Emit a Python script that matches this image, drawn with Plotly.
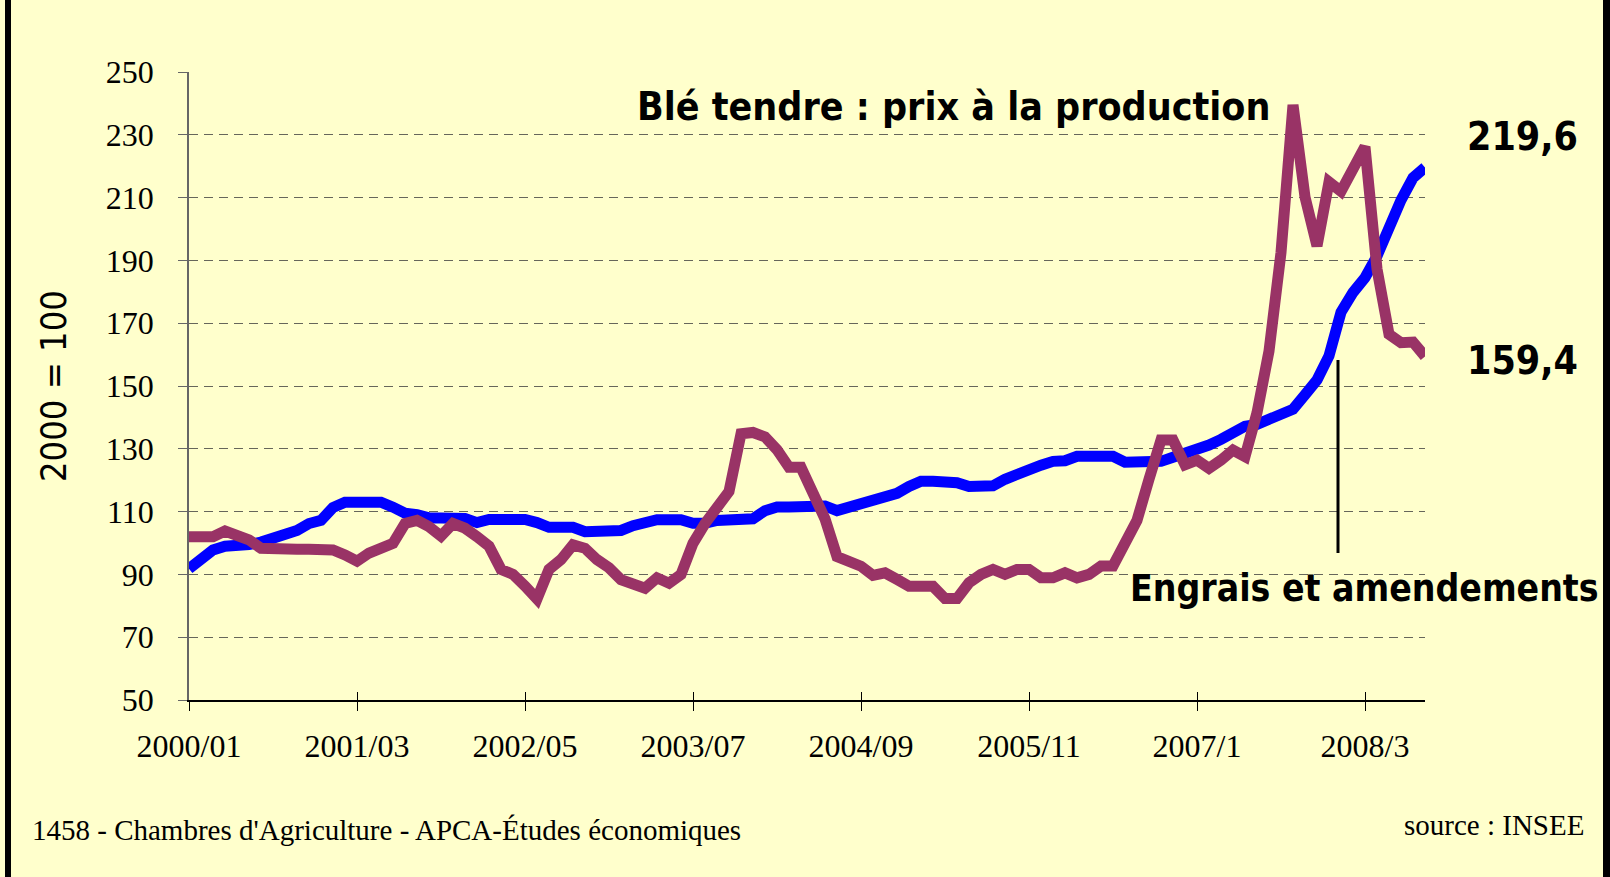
import plotly.graph_objects as go

# Monthly categories 2000/01 .. 2008/08
months = [f"{2000 + i // 12}-{i % 12 + 1:02d}" for i in range(104)]

tick_labels = ["2000/01", "2001/03", "2002/05", "2003/07", "2004/09", "2005/11", "2007/1", "2008/3"]
tick_months = ["2000-01", "2001-03", "2002-05", "2003-07", "2004-09", "2005-11", "2007-01", "2008-03"]

engrais = [
    91.8, 95.2, 97.8, 99, 99, 99.5, 100.3, 101.5, 102.8, 104,
    106.2, 107.2, 111.3, 113, 113, 113, 113, 111.4, 109.5, 109,
    108, 108, 108, 107.8, 106.5, 107.5, 107.5, 107.5, 107.5, 106.5,
    105, 105, 105, 103.6, 103.6, 103.6, 104, 105.5, 106.5, 107.4,
    107.4, 107.4, 106.3, 106.3, 107.2, 107.2, 107.2, 107.7, 110.3, 111.5,
    111.5, 111.5, 111.5, 111.8, 110.3, 111.5, 112.5, 113.8, 115.2, 115.8,
    118, 119.7, 119.7, 119.7, 119.2, 118, 118, 118.2, 120.3, 122,
    123.5, 124.8, 126, 126.2, 127.6, 127.6, 127.6, 127.6, 125.7, 125.7,
    125.7, 126, 127.3, 128.5, 129.6, 131.2, 133, 135.6, 137.2, 137.8,
    139.4, 140.5, 142.6, 147.2, 151.9, 159.6, 173.5, 179.8, 184.5, 191.4,
    200.8, 209.2, 216.3, 219.6,
]

ble = [
    102, 102, 102, 103.8, 102.5, 101, 98.3, 98, 98, 98,
    98, 98, 97.8, 96.2, 94.2, 96.8, 98.3, 99.9, 106.2, 107.2,
    105.2, 102.2, 106.2, 104.7, 102, 99, 91.6, 90, 86.3, 82.2,
    91.6, 94.7, 99.4, 98.3, 94.7, 92.1, 88.3, 87, 85.6, 88.9,
    87.2, 90, 99.9, 106.2, 110.9, 116.4, 134.8, 135.2, 133.8, 129.7,
    124.1, 124.1, 115.9, 107.7, 95.7, 94.2, 92.6, 89.7, 90.5, 88.4,
    86.2, 86.2, 86.2, 82.3, 82.3, 87.3, 90, 91.6, 90, 91.6,
    91.6, 88.9, 88.9, 90.5, 88.9, 90, 92.7, 92.7, 100.9, 107.2,
    120.3, 132.8, 132.8, 124.9, 126.4, 123.8, 126.4, 129.6, 127.5, 141.5,
    161.1, 192.5, 239.5, 210.2, 194.6, 215, 212, 220, 226.2, 187.3,
    166.5, 163.8, 164, 159.4,
]

y_ticks = [50, 70, 90, 110, 130, 150, 170, 190, 210, 230, 250]

BG = "#FFFFCC"
BLUE = "#0000FF"
PLUM = "#993366"
SANS = "Liberation Sans Narrow, DejaVu Sans Condensed, Roboto, sans-serif"
SERIF = "Liberation Serif, DejaVu Serif, serif"

fig = go.Figure()
fig.add_trace(go.Scatter(x=months, y=engrais, mode="lines", name="Engrais et amendements",
                         line=dict(color=BLUE, width=11), xaxis="x", yaxis="y"))
fig.add_trace(go.Scatter(x=months, y=ble, mode="lines", name="Blé tendre",
                         line=dict(color=PLUM, width=11), xaxis="x2", yaxis="y"))

W, H = 1610, 877
L, R, T, B = 189, 1425, 72, 700
pw, ph = R - L, B - T


def px(x):
    return (x - L) / pw


def py(y):
    return (B - y) / ph


fig.update_layout(
    width=W, height=H,
    margin=dict(l=L, r=W - R, t=T, b=H - B, pad=0),
    paper_bgcolor=BG, plot_bgcolor=BG,
    showlegend=False,
    xaxis=dict(type="category", categoryorder="array", categoryarray=months,
               range=[0, len(months) - 1],
               tickmode="array", tickvals=tick_months, ticktext=tick_labels,
               ticks="outside", ticklen=9, tickcolor="#000000", tickwidth=1,
               showline=True, linecolor="#000000", linewidth=1.5,
               showgrid=False, zeroline=False,
               tickfont=dict(family=SERIF, size=32, color="#000000"),
               ticklabelstandoff=8),
    xaxis2=dict(type="category", categoryorder="array", categoryarray=months,
                range=[0, len(months) - 1], overlaying="x", matches="x",
                tickmode="array", tickvals=tick_months,
                ticks="inside", ticklen=8, tickcolor="#000000", tickwidth=1,
                showticklabels=False, showline=False, showgrid=False, zeroline=False),
    yaxis=dict(range=[50, 250], tickmode="array", tickvals=y_ticks,
               ticks="outside", ticklen=9, tickcolor="#666666",
               showline=True, linecolor="#666666", linewidth=1.5,
               showgrid=True, gridcolor="#66665a", gridwidth=1, griddash="9px,6px",
               zeroline=False,
               tickfont=dict(family=SERIF, size=32, color="#000000"),
               ticklabelstandoff=18),
)

bold_font = dict(family=SANS, size=39, color="#000000", weight="bold")
fig.add_annotation(text="Blé tendre : prix à la production", xref="paper", yref="paper",
                   x=px(953), y=py(106), showarrow=False, xanchor="center", yanchor="middle",
                   font=bold_font)
fig.add_annotation(text="219,6", xref="paper", yref="paper",
                   x=px(1522), y=py(136), showarrow=False, xanchor="center", yanchor="middle",
                   font=bold_font)
fig.add_annotation(text="159,4", xref="paper", yref="paper",
                   x=px(1522), y=py(360), showarrow=False, xanchor="center", yanchor="middle",
                   font=bold_font)
fig.add_annotation(text="Engrais et amendements", xref="paper", yref="paper",
                   x=px(1128), y=py(588), showarrow=False, xanchor="left", yanchor="middle",
                   font=dict(family=SANS, size=37, color="#000000", weight="bold"))
fig.add_annotation(text="2000 = 100", xref="paper", yref="paper", textangle=-90,
                   x=px(53), y=py(386), showarrow=False, xanchor="center", yanchor="middle",
                   font=dict(family=SANS, size=36, color="#000000"))
fig.add_annotation(text="1458 - Chambres d'Agriculture - APCA-Études économiques",
                   xref="paper", yref="paper", x=px(30), y=py(830), showarrow=False,
                   xanchor="left", yanchor="middle",
                   font=dict(family=SERIF, size=29, color="#000000"))
fig.add_annotation(text="source : INSEE", xref="paper", yref="paper",
                   x=px(1586), y=py(825), showarrow=False,
                   xanchor="right", yanchor="middle",
                   font=dict(family=SERIF, size=29, color="#000000"))

# pointer line for "Engrais et amendements"
fig.add_shape(type="line", xref="paper", yref="paper",
              x0=px(1338), x1=px(1338), y0=py(360), y1=py(553),
              line=dict(color="#000000", width=3))
# black frame at left and right edges
fig.add_shape(type="rect", xref="paper", yref="paper",
              x0=px(5), x1=px(11), y0=py(H + 2), y1=py(-2),
              line=dict(width=0), fillcolor="#000000", layer="above")
fig.add_shape(type="rect", xref="paper", yref="paper",
              x0=px(1603), x1=px(1612), y0=py(H + 2), y1=py(-2),
              line=dict(width=0), fillcolor="#000000", layer="above")

fig.write_html(
    "out.html",
    config={"displayModeBar": False},
    post_script="document.body.style.margin='0';document.body.style.overflow='hidden';"
                "document.body.style.background='#FFFFCC';",
)
